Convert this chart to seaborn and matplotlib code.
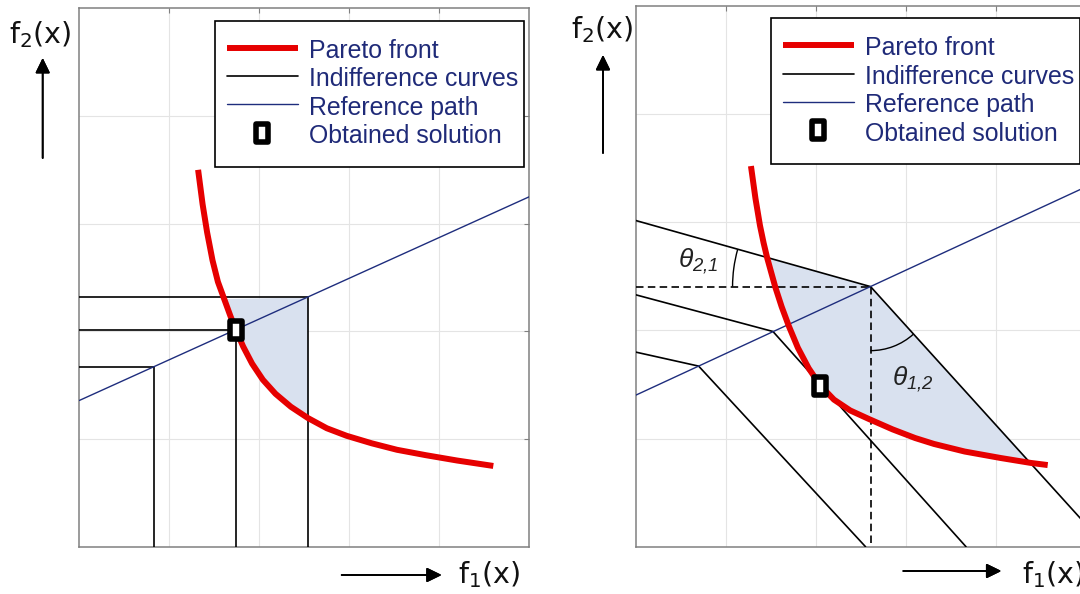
import numpy as np
import matplotlib
matplotlib.use("Agg")
import matplotlib.pyplot as plt
import matplotlib.transforms as mtransforms
import seaborn as sns
from matplotlib.lines import Line2D
from matplotlib.patches import Arc, Polygon, Rectangle
from matplotlib.markers import MarkerStyle
from matplotlib.path import Path

# ---------------- data ----------------
# Pareto front samples (f1, f2)
left_front_f1 = [1.32, 1.37, 1.42, 1.48, 1.54, 1.61, 1.68, 1.74, 1.82, 1.92, 2.04,
                 2.18, 2.35, 2.54, 2.75, 2.97, 3.25, 3.53, 3.85, 4.20, 4.60]
left_front_f2 = [3.50, 3.18, 2.92, 2.66, 2.46, 2.30, 2.14, 2.015, 1.86, 1.70, 1.55,
                 1.42, 1.30, 1.195, 1.10, 1.03, 0.96, 0.90, 0.85, 0.80, 0.75]
right_front_f1 = [1.28, 1.33, 1.38, 1.42, 1.46, 1.55, 1.62, 1.70, 1.80, 1.92, 2.05,
                  2.20, 2.38, 2.59, 2.85, 3.10, 3.31, 3.65, 4.05, 4.38, 4.57]
right_front_f2 = [3.52, 3.22, 2.97, 2.81, 2.67, 2.40, 2.22, 2.04, 1.84, 1.65, 1.49,
                  1.36, 1.26, 1.18, 1.085, 1.005, 0.95, 0.88, 0.82, 0.775, 0.755]

# Reference path end points
left_ref_f1 = [0.0, 5.0]
left_ref_f2 = [1.358, 3.25]
right_ref_f1 = [0.0, 5.0]
right_ref_f2 = [1.40, 3.33]

# Corners of the indifference curves (they sit on the reference path)
left_corner_f1 = [0.83, 1.74, 2.54]
left_corner_f2 = [1.67, 2.015, 2.315]
right_corner_f1 = [0.70, 1.524, 2.606]
right_corner_f2 = [1.67, 1.99, 2.405]
# Where the right-hand curves start (f1 = 0) and end
right_start_f2 = [1.80, 2.33, 3.017]
right_end_f1 = [2.55, 3.664, 5.0]
right_end_f2 = [0.0, 0.0, 0.20]
# Where the outermost right-hand curve crosses the front
right_cross_f1 = [1.46, 4.38]

# Obtained solutions
left_solution = (1.74, 2.015)
right_solution = (2.05, 1.49)

legend_labels = ["Pareto front", "Indifference curves", "Reference path", "Obtained solution"]

# ---------------- style ----------------
sns.set_theme(style="white")
plt.rcParams["font.family"] = ["Liberation Sans", "DejaVu Sans"]
plt.rcParams["mathtext.fontset"] = "custom"
plt.rcParams["mathtext.rm"] = "Liberation Sans:italic"
plt.rcParams["mathtext.it"] = "Liberation Sans:italic"

RED = "#e60000"
NAVY = "#1e2d7d"
FILL = "#d9e1ef"
TEXT_NAVY = "#1f2a78"
SPINE = "#808080"
GRID = "#e4e4e4"

W, H = 1080, 594
fig = plt.figure(figsize=(W / 100, H / 100), dpi=100)
ax_l = fig.add_axes([79.3 / W, (H - 546.7) / H, 450 / W, (546.7 - 8.3) / H])
ax_r = fig.add_axes([635.5 / W, (H - 546.7) / H, 451 / W, (546.7 - 6.0) / H])

rect = Path([(-0.33, -0.5), (0.33, -0.5), (0.33, 0.5), (-0.33, 0.5), (-0.33, -0.5)],
            [Path.MOVETO, Path.LINETO, Path.LINETO, Path.LINETO, Path.CLOSEPOLY])
solution_marker = MarkerStyle(rect, joinstyle="round")
marker_kw = dict(marker=solution_marker, markersize=12.4, markerfacecolor="white",
                 markeredgecolor="black", markeredgewidth=4.0, linestyle="none")


def frame(ax):
    ax.set_xlim(0, 5)
    ax.set_ylim(0, 5)
    ax.set_xticks([1, 2, 3, 4])
    ax.set_yticks([1, 2, 3, 4])
    ax.grid(True, color=GRID, lw=0.8, zorder=0)
    ax.set_axisbelow(True)
    ax.tick_params(direction="in", length=3.6, width=0.8, color=SPINE,
                   top=True, right=True, labelleft=False, labelbottom=False)
    for s in ax.spines.values():
        s.set_color(SPINE)
        s.set_linewidth(1.1)
    ax.set_xlabel("")
    ax.set_ylabel("")


def line(ax, x, y, **kw):
    sns.lineplot(x=list(x), y=list(y), ax=ax, sort=False, estimator=None,
                 legend=False, **kw)


def add_legend(ax, box, anchor):
    # box: (x0, y0, width, height) of the legend frame in axes fraction
    ax.add_patch(Rectangle(box[:2], box[2], box[3], transform=ax.transAxes,
                           facecolor="white", edgecolor="black", lw=1.2,
                           zorder=9.5, clip_on=False))
    handles = [
        Line2D([], [], color=RED, lw=4.3, solid_capstyle="butt"),
        Line2D([], [], color="black", lw=1.2),
        Line2D([], [], color=NAVY, lw=1.0),
        Line2D([], [], **marker_kw),
    ]
    leg = ax.legend(handles, legend_labels, loc="upper left", bbox_to_anchor=anchor,
                    borderaxespad=0, borderpad=0, frameon=False,
                    prop={"family": "Liberation Sans", "size": 17.9},
                    labelcolor=TEXT_NAVY, handlelength=2.85, handleheight=1.1,
                    handletextpad=0.45, labelspacing=0.12)
    leg.set_zorder(10)


def angle_arc(ax, cx, cy, r_px, t1, t2):
    arc = Arc((0, 0), 2 * r_px, 2 * r_px, theta1=t1, theta2=t2, color="black", lw=1.0,
              transform=mtransforms.ScaledTranslation(cx, cy, ax.transData), zorder=6)
    arc.set_clip_on(False)
    ax.add_patch(arc)


# ---------------- left panel ----------------
ax = ax_l
frame(ax)
f1 = np.array(left_front_f1)
f2 = np.array(left_front_f2)
cx, cy = left_corner_f1[2], left_corner_f2[2]
mask = (f2 <= cy + 1e-9) & (f1 <= cx + 1e-9)
poly = list(zip(f1[mask], f2[mask])) + [(cx, cy)]
ax.add_patch(Polygon(poly, closed=True, facecolor=FILL, edgecolor="none", zorder=1))

for xc, yc in zip(left_corner_f1, left_corner_f2):
    line(ax, [0, xc, xc], [yc, yc, 0], color="black", lw=1.2, zorder=3)
line(ax, left_ref_f1, left_ref_f2, color=NAVY, lw=1.0, zorder=4)
line(ax, left_front_f1, left_front_f2, color=RED, lw=4.3, zorder=5,
     solid_capstyle="butt", solid_joinstyle="round")
ax.plot([left_solution[0]], [left_solution[1]], zorder=8, **marker_kw)
add_legend(ax, (0.3016, 0.7058, 0.6867, 0.2712), (0.328, 0.9458))

# ---------------- right panel ----------------
ax = ax_r
frame(ax)
f1 = np.array(right_front_f1)
f2 = np.array(right_front_f2)
cx, cy = right_corner_f1[2], right_corner_f2[2]
mask = (f1 >= right_cross_f1[0] - 1e-9) & (f1 <= right_cross_f1[1] + 1e-9)
poly = list(zip(f1[mask], f2[mask])) + [(cx, cy)]
ax.add_patch(Polygon(poly, closed=True, facecolor=FILL, edgecolor="none", zorder=1))

for ys, xc, yc, xe, ye in zip(right_start_f2, right_corner_f1, right_corner_f2,
                              right_end_f1, right_end_f2):
    line(ax, [0, xc, xe], [ys, yc, ye], color="black", lw=1.2, zorder=3)
line(ax, [0, cx], [cy, cy], color="black", lw=1.2, dashes=(4.5, 2.6), zorder=3)
line(ax, [cx, cx], [cy, 0], color="black", lw=1.2, dashes=(4.5, 2.6), zorder=3)
line(ax, right_ref_f1, right_ref_f2, color=NAVY, lw=1.0, zorder=4)
line(ax, right_front_f1, right_front_f2, color=RED, lw=4.3, zorder=5,
     solid_capstyle="butt", solid_joinstyle="round")
ax.plot([right_solution[0]], [right_solution[1]], zorder=8, **marker_kw)

angle_arc(ax, cx, cy, 138, 164.5, 180)
angle_arc(ax, cx, cy, 64, 270, 311.9)
ax.text(0.47, 2.588, r"$\theta_{2{,}1}$", fontsize=19, color="#222222",
        ha="left", va="baseline", zorder=7)
ax.text(2.845, 1.492, r"$\theta_{1{,}2}$", fontsize=19, color="#222222",
        ha="left", va="baseline", zorder=7)
add_legend(ax, (0.3004, 0.7072, 0.685, 0.27), (0.327, 0.9462))

# ---------------- axis labels and arrows ----------------
label_kw = dict(fontsize=20.5, family="DejaVu Sans", math_fontfamily="dejavusans",
                color="#111111", ha="left", va="baseline")
fig.text(9.3 / W, (H - 42.9) / H, r"f$_2$(x)", **label_kw)
fig.text(458 / W, (H - 583.5) / H, r"f$_1$(x)", **label_kw)
fig.text(571 / W, (H - 37.9) / H, r"f$_2$(x)", **label_kw)
fig.text(1022 / W, (H - 583.0) / H, r"f$_1$(x)", **label_kw)

arrow_kw = dict(arrowstyle="-|>,head_length=0.45,head_width=0.22", lw=1.3,
                color="black", shrinkA=0, shrinkB=0, mutation_scale=20)
for (x0, y0), (x1, y1) in [((42.7, 158), (42.7, 58)), ((603, 153), (603, 55)),
                           ((341.7, 575), (441.7, 575)), ((903.3, 571), (1001.4, 571))]:
    fig.add_artist(plt.annotate("", xy=(x1, H - y1), xytext=(x0, H - y0),
                                xycoords="figure pixels", textcoords="figure pixels",
                                arrowprops=arrow_kw))

fig.savefig("out.png", dpi=100)
